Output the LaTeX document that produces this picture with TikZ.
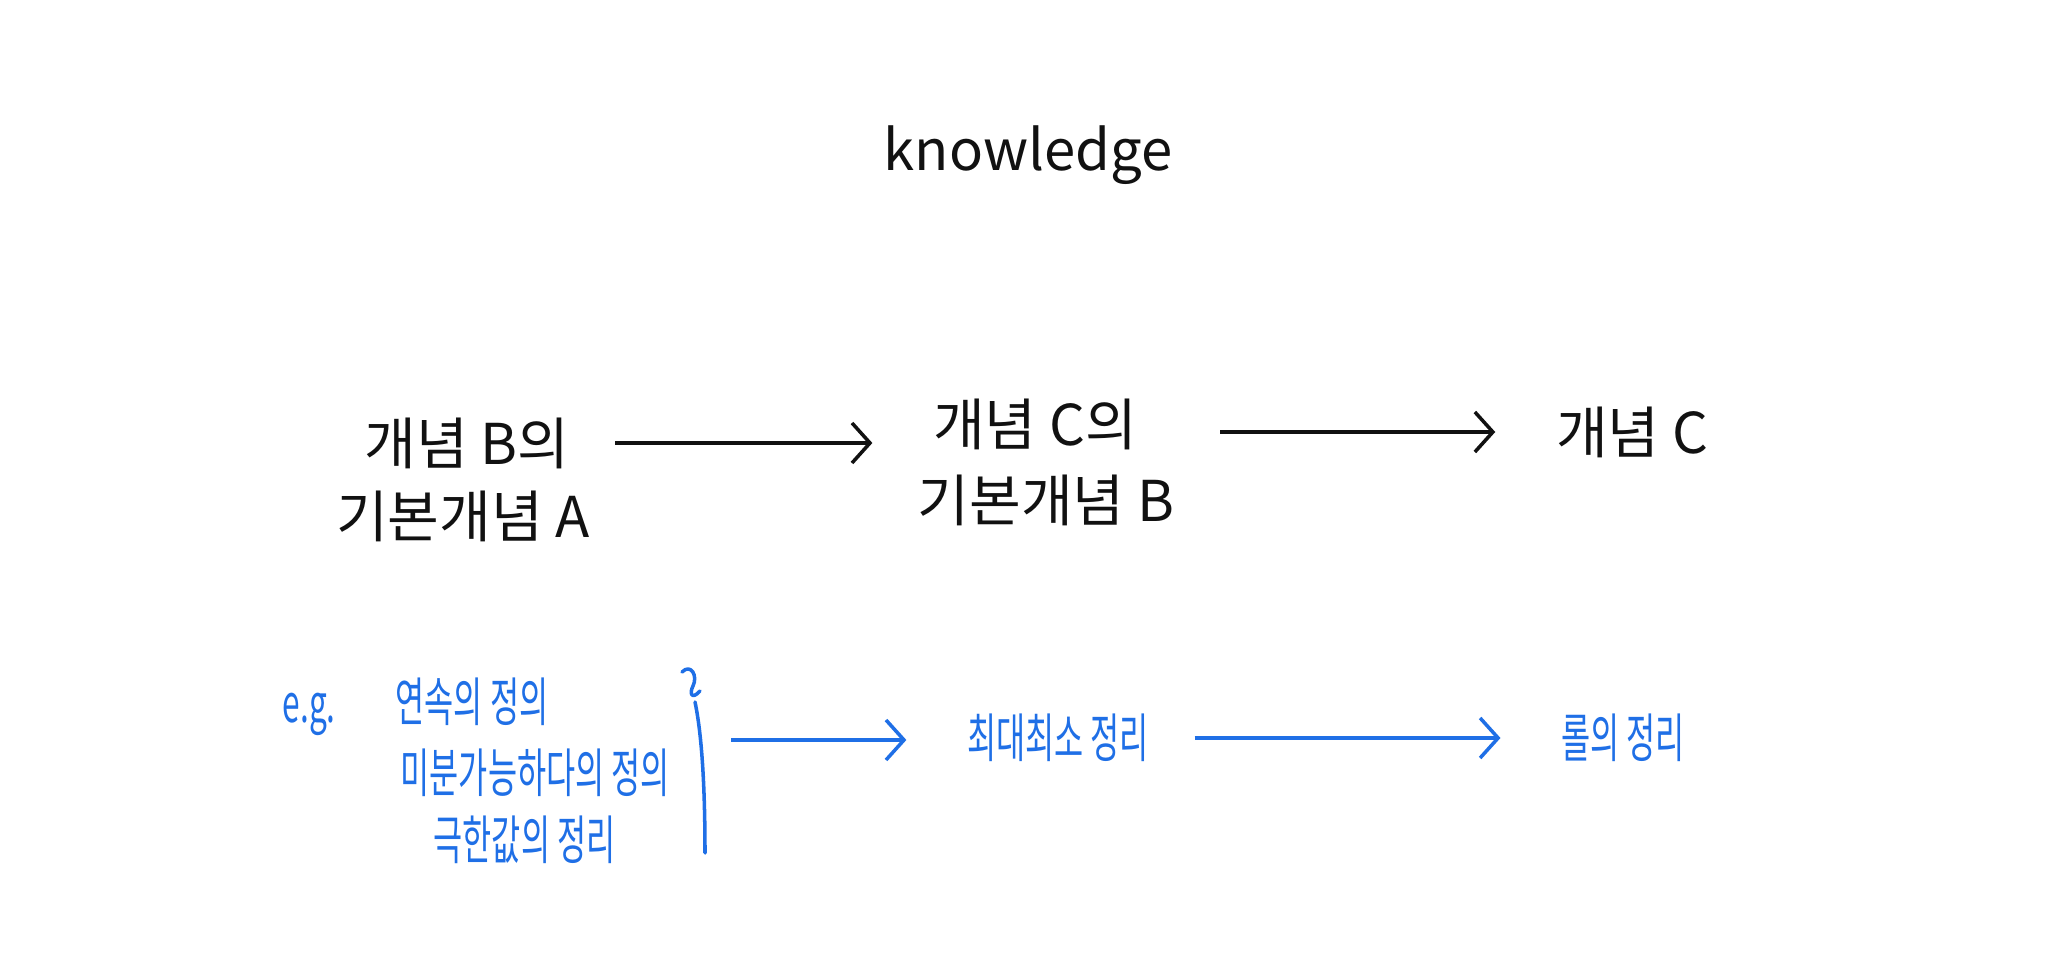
\documentclass[tikz,border=0pt]{standalone}
\usepackage{fontspec}
\newfontfamily\korean{Noto Sans CJK KR}
\newfontfamily\koreannarrow[FakeStretch=0.6]{Noto Sans CJK KR}
\usetikzlibrary{arrows.meta, positioning}
\definecolor{ink}{HTML}{111111}
\definecolor{pen}{HTML}{1F6FE6}
\tikzset{
  heading/.style={inner sep=0pt, text=ink, font=\korean\fontsize{16}{18}\selectfont},
  concept/.style={inner sep=0pt, text=ink, font=\korean\fontsize{16}{18}\selectfont},
  example/.style={inner sep=0pt, text=pen, font=\koreannarrow\fontsize{15}{17}\selectfont},
  arrow/.style={-{Straight Barb[length=1.8mm, width=4mm]}, line width=1pt, draw=ink,
    shorten <=4.5mm, shorten >=6mm},
  bluearrow/.style={arrow, draw=pen},
  bracket/.style={draw=pen, line width=1pt, line cap=round, line join=round}
}
\begin{document}
\begin{tikzpicture}[x=0.01cm, y=-0.01cm]
\useasboundingbox (0,0) rectangle (2048,980);

\node[heading] (knowledge) at (1028,155) {knowledge};

\node[concept] (prereqA1) at (467,443) {개념 B의};
\node[concept] (prereqA2) at (463,516) {기본개념 A};

\node[concept] (prereqB1) at (1035,424) {개념 C의};
\node[concept] (prereqB2) at (1046,500) {기본개념 B};

\node[concept] (conceptC) at (1632,432) {개념 C};

\node[example, anchor=west] (eg) at (282,714) {e.g.};
\node[example, anchor=west] (continuity) at (395,702) {연속의 정의};
\node[example, anchor=west] (differentiable) at (400,773) {미분가능하다의 정의};
\node[example, anchor=west] (limitthm) at (433,840) {극한값의 정리};

\node[example] (extreme) at (1058,738) {최대최소 정리};
\node[example] (rolle) at (1623,738) {롤의 정리};

\coordinate (brace) at (701,740);
\draw[bracket] (682,672) .. controls (691,663) and (698,676) .. (693,686)
  .. controls (689,694) and (692,700) .. (700,691);
\draw[bracket] (695,702) .. controls (703,740) and (705,800) .. (705,853);

\draw[arrow] (prereqA1.east) -- (prereqA1.east -| prereqB1.west);
\draw[arrow] (conceptC.west -| prereqB2.east) -- (conceptC.west);
\draw[bluearrow, shorten <=3mm] (brace) -- (brace -| extreme.west);
\draw[bluearrow] (extreme.east) -- (rolle.west);

\end{tikzpicture}
\end{document}
